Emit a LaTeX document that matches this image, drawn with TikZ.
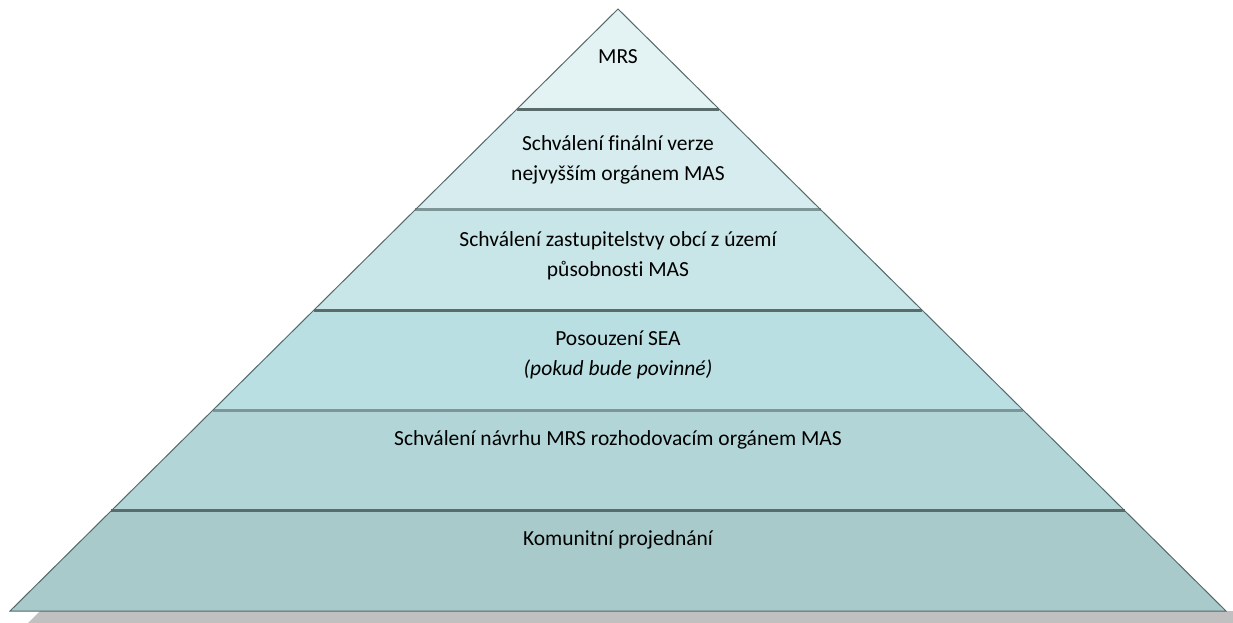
\documentclass[tikz,border=0pt]{standalone}
\usepackage{fontspec}
\setmainfont{Carlito}[Ligatures=CommonOff]
\usetikzlibrary{calc}
\definecolor{cA}{HTML}{E3F2F3}
\definecolor{cB}{HTML}{D6ECEE}
\definecolor{cC}{HTML}{C8E6E8}
\definecolor{cD}{HTML}{B9DFE2}
\definecolor{cE}{HTML}{B2D5D7}
\definecolor{cF}{HTML}{A8CACB}
\definecolor{divdark}{HTML}{5A6B6C}
\definecolor{divlight}{HTML}{7E9597}
\definecolor{edge}{HTML}{55696A}
\definecolor{shadowgray}{HTML}{C0C0C0}
\tikzset{
  lbl/.style={align=center, font=\fontsize{21.5}{30}\selectfont, text=black, inner sep=0pt},
  divider/.style={line width=3pt},
}
\begin{document}
\begin{tikzpicture}[x=1pt,y=-1pt]
\useasboundingbox (0,0) rectangle (1233,623);
\coordinate (apex) at (618,9);
\coordinate (bl) at (10,611);
\coordinate (br) at (1226,611);
% shadow
\fill[shadowgray] (40,611) -- (28,623) -- (1233,623) -- (1233,611) -- cycle;
% layer boundary points
\foreach \i in {1,...,5}{
  \pgfmathsetmacro{\t}{\i/6}
  \coordinate (L\i) at ($(apex)!\t!(bl)$);
  \coordinate (R\i) at ($(apex)!\t!(br)$);
}
\fill[cA] (apex) -- (L1) -- (R1) -- cycle;
\fill[cB] (L1) -- (L2) -- (R2) -- (R1) -- cycle;
\fill[cC] (L2) -- (L3) -- (R3) -- (R2) -- cycle;
\fill[cD] (L3) -- (L4) -- (R4) -- (R3) -- cycle;
\fill[cE] (L4) -- (L5) -- (R5) -- (R4) -- cycle;
\fill[cF] (L5) -- (bl) -- (br) -- (R5) -- cycle;
\draw[divider, divdark] (L1) -- (R1);
\draw[divider, divlight] (L2) -- (R2);
\draw[divider, divdark] (L3) -- (R3);
\draw[divider, divlight] (L4) -- (R4);
\draw[divider, divdark] (L5) -- (R5);
\draw[edge, line width=1pt, line join=miter] (apex) -- (bl) -- (br) -- cycle;
% labels
\node[lbl] (t1) at (618,57) {MRS};
\node[lbl] (t2) at (618,160) {Schválení finální verze\\nejvyšším orgánem MAS};
\node[lbl] (t3) at (618,256) {Schválení zastupitelstvy obcí z území\\působnosti MAS};
\node[lbl] (t4) at (618,355) {Posouzení SEA\\\textit{(pokud bude povinné)}};
\node[lbl] (t5) at (618,440) {Schválení návrhu MRS rozhodovacím orgánem MAS};
\node[lbl] (t6) at (618,540) {Komunitní projednání};
\end{tikzpicture}
\end{document}
